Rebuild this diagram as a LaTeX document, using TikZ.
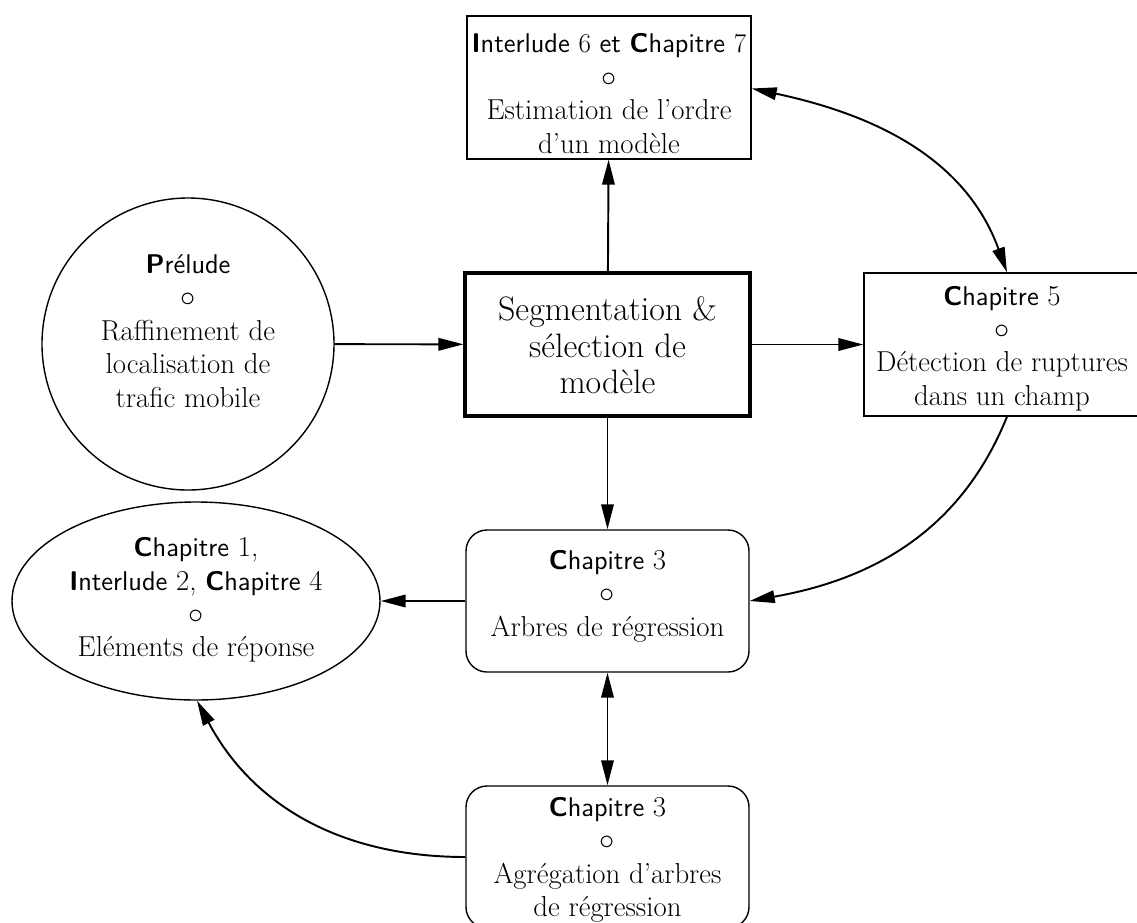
\documentclass[tikz,border=0pt]{standalone}
\usepackage{fontspec}
\usetikzlibrary{arrows.meta,shapes.geometric,calc}
\newcommand\hdr[2]{{\fontsize{15.4}{19}\selectfont\textsf{\textbf{#1}#2}}}
\newcommand\hnum[1]{{\fontsize{15.4}{19}\selectfont #1}}
\begin{document}
\begin{tikzpicture}[
  every node/.style={font=\fontsize{16.4}{19}\selectfont, align=center, inner sep=0pt},
  sqbox/.style={draw, line width=0.8pt, rectangle, minimum width=#1, minimum height=2.86cm},
  rbox/.style={draw, line width=0.8pt, rectangle, rounded corners=0.42cm, minimum width=5.66cm, minimum height=2.84cm},
  conn/.style={line width=1.1pt, -{Triangle[length=0.5cm,width=0.25cm]}},
  dconn/.style={line width=1.1pt, {Triangle[length=0.5cm,width=0.25cm]}-{Triangle[length=0.5cm,width=0.25cm]}}
]
\useasboundingbox (0,0) rectangle (22.74,-18.44);

% shapes
\node[sqbox=5.68cm] (top) at (12.18,-1.75) {};
\node[draw, line width=1.8pt, minimum width=5.7cm, minimum height=2.86cm] (seg) at (12.15,-6.89) {};
\node[draw, line width=0.8pt, circle, minimum size=5.84cm] (prelude) at (3.76,-6.88) {};
\node[sqbox=5.52cm] (ch5) at (20.04,-6.89) {};
\node[draw, line width=0.8pt, ellipse, minimum width=7.36cm, minimum height=3.96cm] (elem) at (3.92,-12.02) {};
\node[rbox] (arbres) at (12.15,-12.02) {};
\node[rbox] (agreg) at (12.15,-17.14) {};

% texts
\node (toptxt) at ($(top)+(0,-0.12)$)
  {\hdr{I}{nterlude} \hnum{6} \hdr{}{et} \hdr{C}{hapitre} \hnum{7}\\ $\circ$\\ Estimation de l'ordre\\ d'un modèle};
\node[font=\fontsize{19.3}{20.8}\selectfont] (segtxt) at ($(seg)+(0,-0.02)$)
  {Segmentation \&\\ sélection de\\ modèle};
\node (preludetxt) at ($(prelude)+(0,0.26)$)
  {\hdr{P}{rélude}\\ $\circ$\\ Raffinement de\\ localisation de\\ trafic mobile};
\node (ch5txt) at ($(ch5)+(0,-0.08)$)
  {\hdr{C}{hapitre} 5\\ $\circ$\\ Détection de ruptures\\ dans un champ};
\node (elemtxt) at ($(elem)+(0,0.02)$)
  {\hdr{C}{hapitre} 1,\\ \hdr{I}{nterlude} 2, \hdr{C}{hapitre} 4\\ $\circ$\\ Eléments de réponse};
\node (arbrestxt) at ($(arbres)+(0,0.1)$)
  {\hdr{C}{hapitre} 3\\ $\circ$\\ Arbres de régression};
\node (agregtxt) at ($(agreg)+(0,-0.06)$)
  {\hdr{C}{hapitre} 3\\ $\circ$\\ Agrégation d'arbres\\ de régression};

% connectors
\draw[conn] (seg) -- (top);
\draw[conn] (prelude) -- (seg);
\draw[conn] (seg) -- (ch5);
\draw[conn] (seg) -- (arbres);
\draw[conn] (arbres) -- (elem);
\draw[dconn] (arbres) -- (agreg);
\draw[dconn] ($(top.east)+(0,-0.02)$) to[out=-12, in=110] ($(ch5.north)+(0.1,0)$);
\draw[conn] ($(ch5.south)+(0.1,0)$) to[out=-112, in=10] (arbres.east);
\draw[conn] (agreg.west) to[out=180, in=-62] ($(elem.south)+(0.02,0)$);
\end{tikzpicture}
\end{document}
